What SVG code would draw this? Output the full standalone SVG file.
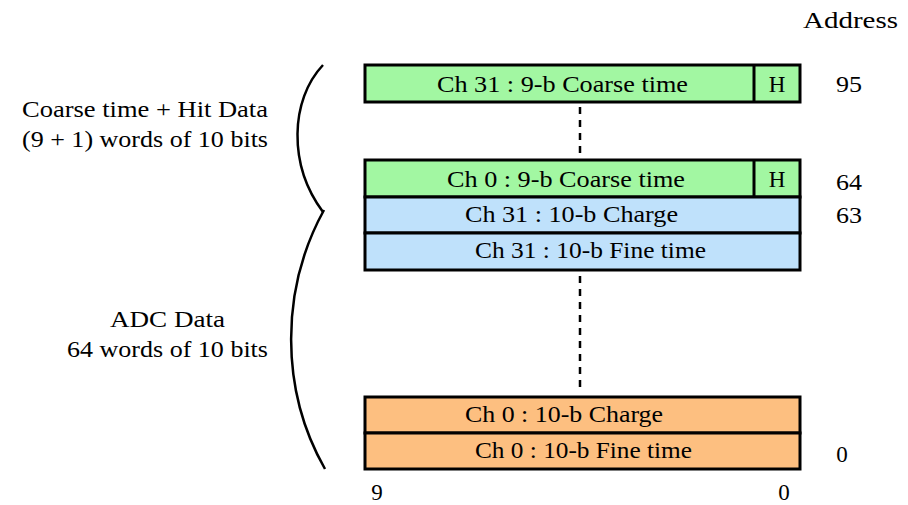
<svg xmlns="http://www.w3.org/2000/svg" width="908" height="505" viewBox="0 0 908 505">
  <style>
    text { font-family: "Liberation Serif", "Times New Roman", serif; font-size: 23px; fill: #000; }
    .c { text-anchor: middle; }
    .cell { stroke: #000; stroke-width: 3; }
    .green { fill: #a2f7a2; }
    .blue { fill: #bfe1fb; }
    .orange { fill: #fdbf80; }
    .dots { stroke: #000; stroke-width: 2.5; stroke-dasharray: 7 6; fill: none; }
    .brace { stroke: #000; stroke-width: 2.5; fill: none; }
  </style>

  <text x="803" y="28" textLength="95" lengthAdjust="spacingAndGlyphs">Address</text>

  <!-- brackets and side labels -->
  <g id="coarse-group">
    <path class="brace" d="M323,65 C290,100 288,165 323,212"/>
    <text x="22" y="117" textLength="246" lengthAdjust="spacingAndGlyphs">Coarse time + Hit Data</text>
    <text x="22" y="147" textLength="246" lengthAdjust="spacingAndGlyphs">(9 + 1) words of 10 bits</text>
  </g>
  <g id="adc-group">
    <path class="brace" d="M324,210 C280,290 280,390 325,469"/>
    <text x="110" y="327" textLength="115" lengthAdjust="spacingAndGlyphs">ADC Data</text>
    <text x="67" y="357" textLength="201" lengthAdjust="spacingAndGlyphs">64 words of 10 bits</text>
  </g>

  <!-- memory words -->
  <g id="w95">
    <rect class="cell green" x="365" y="65" width="435" height="37"/>
    <line class="cell" x1="754" y1="65" x2="754" y2="102"/>
    <text x="437" y="92" textLength="251" lengthAdjust="spacingAndGlyphs">Ch 31 : 9-b Coarse time</text>
    <text x="777" y="92" class="c">H</text>
    <text x="836" y="92" textLength="26" lengthAdjust="spacingAndGlyphs">95</text>
  </g>
  <g id="w64">
    <rect class="cell green" x="365" y="160" width="435" height="37"/>
    <line class="cell" x1="754" y1="160" x2="754" y2="197"/>
    <text x="447" y="187" textLength="238" lengthAdjust="spacingAndGlyphs">Ch 0 : 9-b Coarse time</text>
    <text x="777" y="187" class="c">H</text>
    <text x="836" y="190" textLength="26" lengthAdjust="spacingAndGlyphs">64</text>
  </g>
  <g id="w63">
    <rect class="cell blue" x="365" y="197" width="435" height="36"/>
    <text x="465" y="222" textLength="213" lengthAdjust="spacingAndGlyphs">Ch 31 : 10-b Charge</text>
    <text x="836" y="223" textLength="26" lengthAdjust="spacingAndGlyphs">63</text>
  </g>
  <g id="w62">
    <rect class="cell blue" x="365" y="233" width="435" height="37"/>
    <text x="475" y="258" textLength="231" lengthAdjust="spacingAndGlyphs">Ch 31 : 10-b Fine time</text>
  </g>
  <g id="w1">
    <rect class="cell orange" x="365" y="397" width="435" height="36"/>
    <text x="465" y="422" textLength="198" lengthAdjust="spacingAndGlyphs">Ch 0 : 10-b Charge</text>
  </g>
  <g id="w0">
    <rect class="cell orange" x="365" y="433" width="435" height="36"/>
    <text x="475" y="458" textLength="217" lengthAdjust="spacingAndGlyphs">Ch 0 : 10-b Fine time</text>
    <text x="842" y="462" class="c">0</text>
  </g>

  <!-- ellipsis connectors -->
  <g id="connectors">
    <line class="dots" x1="580" y1="107" x2="580" y2="158"/>
    <line class="dots" x1="580" y1="276" x2="580" y2="390"/>
  </g>

  <!-- bit positions -->
  <text x="377" y="500" class="c">9</text>
  <text x="784" y="500" class="c">0</text>
</svg>
